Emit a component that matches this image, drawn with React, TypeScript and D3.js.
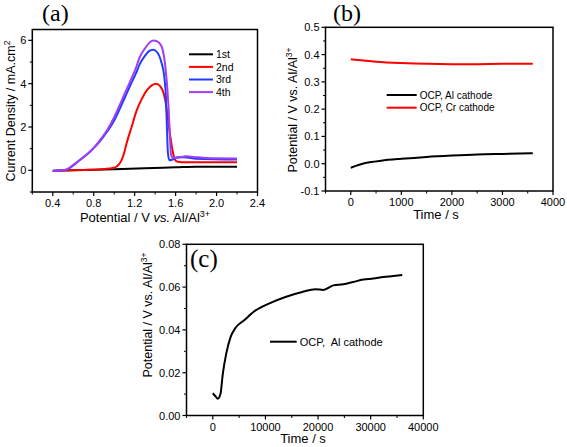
import React from "react";
import * as d3 from "d3";

// ---------- Panel (a): cyclic voltammetry ----------
const cvPotential1st = [0.4, 0.7, 1.0, 1.3, 1.6, 1.8, 2.2];
const cvCurrent1st = [-0.02, 0.01, 0.05, 0.1, 0.14, 0.17, 0.16];

const cvPotential2nd = [0.4, 0.55, 0.7, 0.85, 0.95, 1.0, 1.03, 1.07, 1.1, 1.12, 1.17, 1.22, 1.27, 1.32, 1.37, 1.41, 1.45, 1.48, 1.5, 1.515, 1.535, 1.555, 1.575, 1.595, 1.62, 1.7, 2.2];
const cvCurrent2nd = [-0.03, 0.0, 0.02, 0.04, 0.08, 0.12, 0.2, 0.45, 0.85, 1.23, 2.0, 2.77, 3.3, 3.7, 3.93, 4.0, 3.88, 3.6, 3.2, 2.75, 2.0, 1.35, 0.8, 0.48, 0.4, 0.37, 0.37];

const cvPotential3rd = [0.4, 0.5, 0.55, 0.6, 0.67, 0.75, 0.81, 0.87, 0.93, 1.0, 1.06, 1.11, 1.16, 1.21, 1.25, 1.3, 1.34, 1.38, 1.42, 1.46, 1.49, 1.505, 1.515, 1.525, 1.54, 1.58, 1.62, 1.68, 1.8, 2.2];
const cvCurrent3rd = [-0.03, 0.0, 0.06, 0.22, 0.5, 0.8, 1.08, 1.4, 1.78, 2.3, 2.9, 3.42, 3.95, 4.45, 4.9, 5.28, 5.5, 5.57, 5.45, 5.0, 4.3, 3.4, 2.0, 0.8, 0.46, 0.52, 0.6, 0.6, 0.54, 0.5];

const cvPotential4th = [0.4, 0.5, 0.55, 0.6, 0.67, 0.75, 0.81, 0.87, 0.93, 1.0, 1.06, 1.11, 1.16, 1.21, 1.25, 1.3, 1.34, 1.38, 1.42, 1.46, 1.49, 1.51, 1.53, 1.545, 1.555, 1.57, 1.62, 1.7, 1.78, 1.9, 2.2];
const cvCurrent4th = [-0.03, 0.0, 0.08, 0.25, 0.5, 0.8, 1.08, 1.45, 1.85, 2.45, 3.08, 3.62, 4.15, 4.7, 5.23, 5.62, 5.87, 5.99, 5.95, 5.75, 5.15, 4.3, 3.0, 1.5, 0.75, 0.58, 0.58, 0.65, 0.62, 0.57, 0.55];

const cvLegend = ["1st", "2nd", "3rd", "4th"];
const cvColors = ["#000000", "#ff0000", "#1f3fff", "#a33cf5"];
const cvXTicks = [0.4, 0.8, 1.2, 1.6, 2.0, 2.4];
const cvXMinor = [0.2, 0.6, 1.0, 1.4, 1.8, 2.2];
const cvYTicks = [0, 2, 4, 6];
const cvYMinor = [-1, 1, 3, 5];

// ---------- Panel (b): OCP, 1 h ----------
const ocpTimeCr = [0, 200, 500, 1000, 1500, 2000, 2500, 3000, 3600];
const ocpValueCr = [0.383, 0.379, 0.374, 0.369, 0.366, 0.365, 0.365, 0.366, 0.366];
const ocpTimeAl = [0, 100, 200, 400, 600, 1000, 1500, 2000, 2500, 3000, 3600];
const ocpValueAl = [-0.015, -0.008, -0.002, 0.006, 0.011, 0.018, 0.025, 0.03, 0.034, 0.036, 0.038];
const ocpLegend = ["OCP, Al cathode", "OCP, Cr cathode"];
const ocpXTicks = [0, 1000, 2000, 3000, 4000];
const ocpXMinor = [-500, 500, 1500, 2500, 3500];
const ocpYTicks = [-0.1, 0.0, 0.1, 0.2, 0.3, 0.4, 0.5];
const ocpYMinor = [-0.05, 0.05, 0.15, 0.25, 0.35, 0.45];

// ---------- Panel (c): OCP, 10 h ----------
const longTime = [0, 500, 950, 1450, 1900, 2550, 3370, 4320, 5900, 8120, 10650, 13800, 17000, 19500, 21000, 22900, 24800, 26700, 28600, 30500, 32400, 34300, 36000];
const longValue = [0.0104, 0.009, 0.0078, 0.01, 0.0195, 0.0289, 0.0366, 0.041, 0.0444, 0.0491, 0.0523, 0.0554, 0.0577, 0.059, 0.0587, 0.0608, 0.0613, 0.0624, 0.0635, 0.064, 0.0647, 0.0652, 0.0657];
const longLegend = "OCP,  Al cathode";
const longXTicks = [0, 10000, 20000, 30000, 40000];
const longXMinor = [-5000, 5000, 15000, 25000, 35000];
const longYTicks = [0, 0.02, 0.04, 0.06, 0.08];
const longYMinor = [0.01, 0.03, 0.05, 0.07];

const SANS = "'Liberation Sans', Arial, sans-serif";
const SERIF = "'Liberation Serif', 'Times New Roman', serif";

type Series = { xs: number[]; ys: number[]; color: string };

type PanelProps = {
  box: { left: number; right: number; top: number; bottom: number };
  xDomain: [number, number];
  yDomain: [number, number];
  xTicks: number[];
  xMinor: number[];
  yTicks: number[];
  yMinor: number[];
  xFmt: (v: number) => string;
  yFmt: (v: number) => string;
  series: Series[];
};

function Panel({ box, xDomain, yDomain, xTicks, xMinor, yTicks, yMinor, xFmt, yFmt, series }: PanelProps) {
  const x = d3.scaleLinear().domain(xDomain).range([box.left, box.right]);
  const y = d3.scaleLinear().domain(yDomain).range([box.bottom, box.top]);
  const line = d3
    .line<[number, number]>()
    .x((d) => x(d[0]))
    .y((d) => y(d[1]))
    .curve(d3.curveMonotoneX);
  const clipId = `clip-${Math.round(box.left)}-${Math.round(box.top)}`;
  return (
    <g>
      <defs>
        <clipPath id={clipId}>
          <rect x={box.left} y={box.top} width={box.right - box.left} height={box.bottom - box.top} />
        </clipPath>
      </defs>
      <g clipPath={`url(#${clipId})`}>
        {series.map((s, i) => (
          <path
            key={i}
            d={line(s.xs.map((v, j) => [v, s.ys[j]] as [number, number])) || ""}
            fill="none"
            stroke={s.color}
            strokeWidth={2}
            strokeLinejoin="round"
          />
        ))}
      </g>
      <rect
        x={box.left}
        y={box.top}
        width={box.right - box.left}
        height={box.bottom - box.top}
        fill="none"
        stroke="#000"
        strokeWidth={1.5}
      />
      {xTicks.map((t) => (
        <g key={"xt" + t}>
          <line x1={x(t)} x2={x(t)} y1={box.bottom} y2={box.bottom + 4} stroke="#000" strokeWidth={1.2} />
          <text x={x(t)} y={box.bottom + 15} textAnchor="middle" fontSize={11} fontFamily={SANS}>
            {xFmt(t)}
          </text>
        </g>
      ))}
      {xMinor.map((t) => (
        <line key={"xm" + t} x1={x(t)} x2={x(t)} y1={box.bottom} y2={box.bottom + 2.5} stroke="#000" strokeWidth={1} />
      ))}
      {yTicks.map((t) => (
        <g key={"yt" + t}>
          <line x1={box.left - 4} x2={box.left} y1={y(t)} y2={y(t)} stroke="#000" strokeWidth={1.2} />
          <text x={box.left - 6} y={y(t) + 4} textAnchor="end" fontSize={11} fontFamily={SANS}>
            {yFmt(t)}
          </text>
        </g>
      ))}
      {yMinor.map((t) => (
        <line key={"ym" + t} x1={box.left - 2.5} x2={box.left} y1={y(t)} y2={y(t)} stroke="#000" strokeWidth={1} />
      ))}
    </g>
  );
}

function LegendRow({ x1, x2, y, color, label, size }: { x1: number; x2: number; y: number; color: string; label: string; size: number }) {
  return (
    <g>
      <line x1={x1} x2={x2} y1={y} y2={y} stroke={color} strokeWidth={2} />
      <text x={x2 + 3} y={y + size * 0.36} fontSize={size} fontFamily={SANS} style={{ whiteSpace: "pre" }}>
        {label}
      </text>
    </g>
  );
}

export default function App() {
  const cvSeries: Series[] = [
    { xs: cvPotential1st, ys: cvCurrent1st, color: cvColors[0] },
    { xs: cvPotential2nd, ys: cvCurrent2nd, color: cvColors[1] },
    { xs: cvPotential3rd, ys: cvCurrent3rd, color: cvColors[2] },
    { xs: cvPotential4th, ys: cvCurrent4th, color: cvColors[3] },
  ];
  const ocpSeries: Series[] = [
    { xs: ocpTimeAl, ys: ocpValueAl, color: "#000000" },
    { xs: ocpTimeCr, ys: ocpValueCr, color: "#ff0000" },
  ];
  const longSeries: Series[] = [{ xs: longTime, ys: longValue, color: "#000000" }];

  return (
    <svg
      width={567}
      height={447}
      style={{ position: "absolute", left: 0, top: 0, background: "#fff" }}
    >
      <rect x={0} y={0} width={567} height={447} fill="#fff" />

      {/* Panel (a) */}
      <Panel
        box={{ left: 32.3, right: 257.5, top: 29.5, bottom: 192 }}
        xDomain={[0.2, 2.4]}
        yDomain={[-1, 6.5]}
        xTicks={cvXTicks}
        xMinor={cvXMinor}
        yTicks={cvYTicks}
        yMinor={cvYMinor}
        xFmt={(v) => v.toFixed(1)}
        yFmt={(v) => String(v)}
        series={cvSeries}
      />
      {cvLegend.map((l, i) => (
        <LegendRow key={l} x1={189} x2={213} y={54.3 + i * 12.6} color={cvColors[i]} label={l} size={10.5} />
      ))}
      <text x={42} y={20.5} fontSize={24} fontFamily={SERIF}>(a)</text>
      <text x={145} y={222} textAnchor="middle" fontSize={13} fontFamily={SANS}>
        Potential / V <tspan fontStyle="italic">vs.</tspan> Al/Al<tspan fontSize={9} dy={-5}>3+</tspan>
      </text>
      <text
        transform="translate(15,111) rotate(-90)"
        textAnchor="middle"
        fontSize={12.5}
        fontFamily={SANS}
      >
        Current Density / mA.cm<tspan fontSize={8.5} dy={-5}>2</tspan>
      </text>

      {/* Panel (b) */}
      <Panel
        box={{ left: 325.5, right: 553, top: 27.3, bottom: 191 }}
        xDomain={[-500, 4000]}
        yDomain={[-0.1, 0.5]}
        xTicks={ocpXTicks}
        xMinor={ocpXMinor}
        yTicks={ocpYTicks}
        yMinor={ocpYMinor}
        xFmt={(v) => String(v)}
        yFmt={(v) => v.toFixed(1)}
        series={ocpSeries}
      />
      {ocpLegend.map((l, i) => (
        <LegendRow key={l} x1={386.7} x2={416.7} y={95 + i * 12.7} color={i === 0 ? "#000" : "#ff0000"} label={l} size={10} />
      ))}
      <text x={333} y={20.5} fontSize={24} fontFamily={SERIF}>(b)</text>
      <text x={436} y={219} textAnchor="middle" fontSize={13} fontFamily={SANS}>Time / s</text>
      <text
        transform="translate(297,110) rotate(-90)"
        textAnchor="middle"
        fontSize={12.5}
        fontFamily={SANS}
      >
        Potential / V vs. Al/Al<tspan fontSize={8.5} dy={-5}>3+</tspan>
      </text>

      {/* Panel (c) */}
      <Panel
        box={{ left: 186.5, right: 423.3, top: 244.3, bottom: 415.5 }}
        xDomain={[-5000, 40000]}
        yDomain={[0, 0.08]}
        xTicks={longXTicks}
        xMinor={longXMinor}
        yTicks={longYTicks}
        yMinor={longYMinor}
        xFmt={(v) => String(v)}
        yFmt={(v) => v.toFixed(2)}
        series={longSeries}
      />
      <LegendRow x1={270} x2={296.7} y={341.7} color="#000" label={longLegend} size={11} />
      <text x={190} y={267} fontSize={25} fontFamily={SERIF}>(c)</text>
      <text x={303} y={443} textAnchor="middle" fontSize={13} fontFamily={SANS}>Time / s</text>
      <text
        transform="translate(152,315) rotate(-90)"
        textAnchor="middle"
        fontSize={12.5}
        fontFamily={SANS}
      >
        Potential / V vs. Al/Al<tspan fontSize={8.5} dy={-5}>3+</tspan>
      </text>
    </svg>
  );
}
